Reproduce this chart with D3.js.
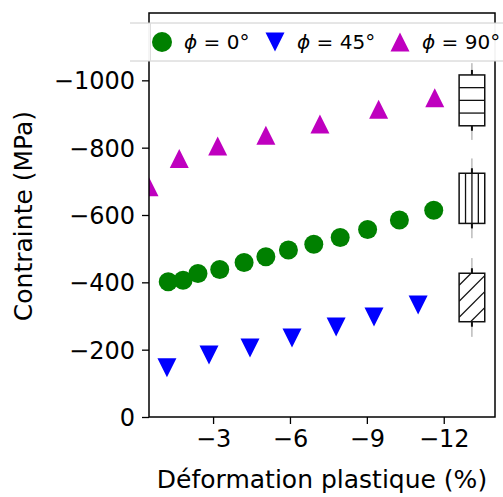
<!DOCTYPE html>
<html><head><meta charset="utf-8">
<script src="https://cdn.jsdelivr.net/npm/d3@7"></script>
<style>
body{margin:0;background:#fff;}
svg{display:block;font-family:"DejaVu Sans",sans-serif;}
</style></head>
<body>
<svg id="c" width="503" height="497"></svg>
<script>
// ---- data ----
const xTicks = [-3, -6, -9, -12];
const yTicks = [0, -200, -400, -600, -800, -1000];
const phi0X = [-1.25, -1.83, -2.41, -3.26, -4.21, -5.06, -5.94, -6.93, -7.96, -9.03, -10.27, -11.61];
const phi0Y = [-402, -406, -426, -438, -459, -476, -496, -513, -533, -557, -585, -614];
const phi45X = [-1.20, -2.84, -4.44, -6.08, -7.80, -9.28, -11.0];
const phi45Y = [-146, -184, -205, -235, -267, -297, -333];
const phi90X = [-0.5, -1.68, -3.18, -5.06, -7.17, -9.46, -11.65];
const phi90Y = [-684, -768, -805, -837, -870, -914, -948];
const seriesLabels = ["0°", "45°", "90°"];
// box glyphs on the right: [whiskerLow, q1, q3, whiskerHigh]
const boxX = -13.1;
const boxTop = [-823, -865, -1016, -1051];
const boxMid = [-531, -575, -724, -768];
const boxLow = [-238, -283, -427, -472];

const svg = d3.select("#c");
const L = 149, R = 495, T = 13, B = 417;
const x = d3.scaleLinear().domain([-0.5, -14]).range([L, R]);
const y = d3.scaleLinear().domain([0, -1200]).range([B, T]);
const fmt = v => (v < 0 ? "\u2212" : "") + Math.abs(v);

svg.append("defs").append("clipPath").attr("id","clip")
  .append("rect").attr("x",L).attr("y",T).attr("width",R-L).attr("height",B-T);

const plot = svg.append("g").attr("clip-path","url(#clip)");

const h = 9.5;
const triUp = `M0,${-h}L${h},${h}L${-h},${h}Z`;
const triDown = `M0,${h}L${h},${-h}L${-h},${-h}Z`;

plot.selectAll("circle.g").data(phi0X).enter().append("circle")
  .attr("cx", d => x(d)).attr("cy", (d,i) => y(phi0Y[i])).attr("r", 9.5).attr("fill", "#008000");
plot.selectAll("path.b").data(phi45X).enter().append("path")
  .attr("d", triDown).attr("transform", (d,i) => `translate(${x(d)},${y(phi45Y[i])})`).attr("fill", "#0000ff");
plot.selectAll("path.m").data(phi90X).enter().append("path")
  .attr("d", triUp).attr("transform", (d,i) => `translate(${x(d)},${y(phi90Y[i])})`).attr("fill", "#bf00bf");

// box glyphs
const bw = x(boxX - 0.5) - x(boxX + 0.5);
function drawBox(vals, hatch) {
  const cx = x(boxX);
  const x0 = cx - bw/2, x1 = cx + bw/2;
  const yTop = y(vals[2]), yBot = y(vals[1]);
  const g = plot.append("g");
  g.append("line").attr("x1",cx).attr("x2",cx).attr("y1",y(vals[3])).attr("y2",yTop).attr("stroke","#999").attr("stroke-width",1);
  g.append("line").attr("x1",cx).attr("x2",cx).attr("y1",yBot).attr("y2",y(vals[0])).attr("stroke","#999").attr("stroke-width",1);
  g.append("line").attr("x1",cx).attr("x2",cx).attr("y1",yTop-5).attr("y2",yTop).attr("stroke","#111").attr("stroke-width",2);
  g.append("line").attr("x1",cx).attr("x2",cx).attr("y1",yBot).attr("y2",yBot+5).attr("stroke","#111").attr("stroke-width",2);
  g.append("rect").attr("x",x0).attr("y",yTop).attr("width",bw).attr("height",yBot-yTop).attr("fill","#fff");
  const hg = g.append("g").attr("stroke","#111").attr("stroke-width",1.3);
  const bh = yBot - yTop;
  if (hatch === "-") {
    [1,2,3].forEach(k => hg.append("line").attr("x1",x0).attr("x2",x1).attr("y1",yTop+bh*k/4).attr("y2",yTop+bh*k/4));
  } else if (hatch === "|") {
    [1,2,3].forEach(k => hg.append("line").attr("y1",yTop).attr("y2",yBot).attr("x1",x0+bw*k/4).attr("x2",x0+bw*k/4));
  } else {
    const cid = "bc" + Math.round(yTop);
    svg.select("defs").append("clipPath").attr("id",cid).append("rect")
      .attr("x",x0).attr("y",yTop).attr("width",bw).attr("height",bh);
    const hh = hg.append("g").attr("clip-path",`url(#${cid})`);
    const step = 16;
    for (let k = -3; k < 8; k++) {
      const yl = yTop + 12 + k*step; // intercept on left edge
      hh.append("line").attr("x1",x0).attr("y1",yl).attr("x2",x1).attr("y2",yl-bw);
    }
  }
  g.append("rect").attr("x",x0).attr("y",yTop).attr("width",bw).attr("height",bh)
    .attr("fill","none").attr("stroke","#111").attr("stroke-width",1.5);
}
drawBox(boxTop, "-");
drawBox(boxMid, "|");
drawBox(boxLow, "/");

// axes
const ax = svg.append("g").attr("transform",`translate(0,${B})`)
  .call(d3.axisBottom(x).tickValues(xTicks).tickFormat(fmt).tickSizeOuter(0).tickSize(7).tickPadding(6));
const ay = svg.append("g").attr("transform",`translate(${L},0)`)
  .call(d3.axisLeft(y).tickValues(yTicks).tickFormat(fmt).tickSizeOuter(0).tickSize(7).tickPadding(7));
[ax, ay].forEach(a => {
  a.select(".domain").remove();
  a.selectAll(".tick line").attr("stroke","#000").attr("stroke-width",1.3);
  a.selectAll(".tick text").attr("fill","#000").style("font-size","24px").style("font-family","DejaVu Sans");
});
ay.selectAll(".tick text").attr("dy","0.35em");

// frame
svg.append("rect").attr("x",L).attr("y",T).attr("width",R-L).attr("height",B-T)
  .attr("fill","none").attr("stroke","#000").attr("stroke-width",1.5);

// labels
svg.append("text").attr("x",322).attr("y",488).attr("text-anchor","middle")
  .style("font-size","25px").attr("fill","#000").text("Déformation plastique (%)");
svg.append("text").attr("transform","translate(32,216) rotate(-90)").attr("text-anchor","middle")
  .style("font-size","25px").attr("fill","#000").text("Contrainte (MPa)");

// legend
const lg = svg.append("g");
lg.append("rect").attr("x",130).attr("y",23).attr("width",400).attr("height",38)
  .attr("fill","#fff").attr("fill-opacity",0.95);
lg.append("line").attr("x1",130).attr("x2",503).attr("y1",23).attr("y2",23).attr("stroke","#ccc");
lg.append("line").attr("x1",130).attr("x2",503).attr("y1",61).attr("y2",61).attr("stroke","#ccc");
lg.append("line").attr("x1",150.5).attr("x2",150.5).attr("y1",23).attr("y2",61).attr("stroke","#ddd");
const legendItems = [
  {mx:162, tx:184, label:seriesLabels[0], shape:"circle", color:"#008000"},
  {mx:275, tx:297, label:seriesLabels[1], shape:"down", color:"#0000ff"},
  {mx:400, tx:422, label:seriesLabels[2], shape:"up", color:"#bf00bf"}
];
legendItems.forEach(it => {
  if (it.shape === "circle") lg.append("circle").attr("cx",it.mx).attr("cy",42).attr("r",10).attr("fill",it.color);
  else lg.append("path").attr("d", it.shape==="up"?triUp:triDown).attr("transform",`translate(${it.mx},42)`).attr("fill",it.color);
  const t = lg.append("text").attr("x",it.tx).attr("y",49).style("font-size","20px").attr("fill","#000");
  t.append("tspan").style("font-style","italic").text("\u03D5");
  t.append("tspan").text(" = " + it.label);
});
</script>
</body></html>
